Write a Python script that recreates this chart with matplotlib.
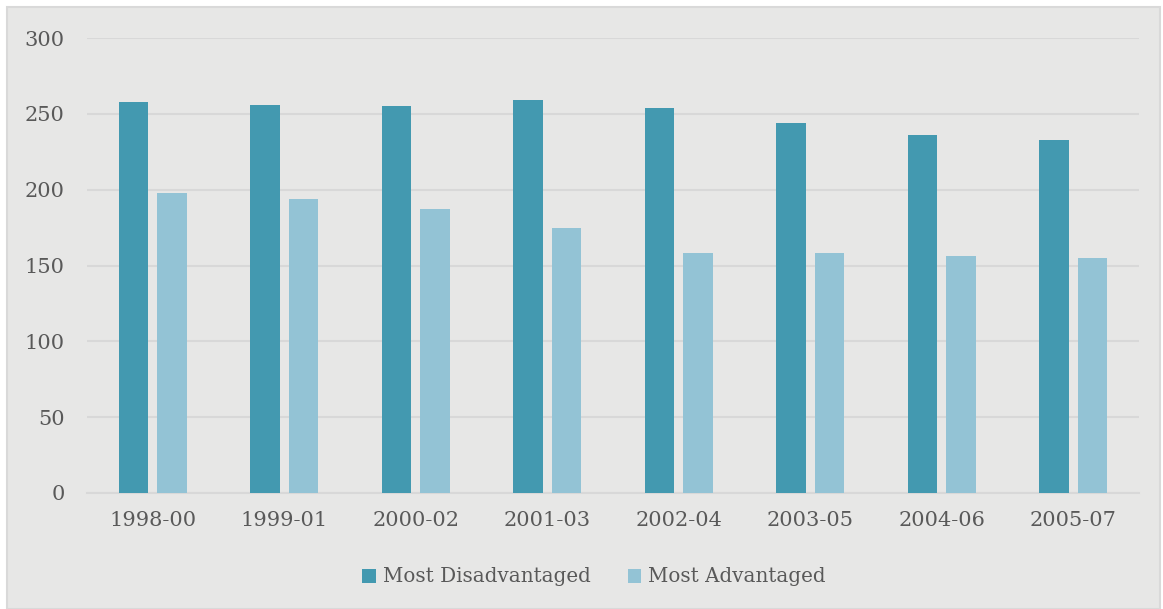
import numpy as np
import matplotlib.pyplot as plt
from matplotlib.patches import Rectangle

# data
periods = ['1998-00', '1999-01', '2000-02', '2001-03', '2002-04', '2003-05', '2004-06', '2005-07']
disadvantaged = [258, 256, 255, 259, 254, 244, 236, 233]
advantaged = [198, 194, 187, 175, 158, 158, 156, 155]

W, H = 1163, 609
fig = plt.figure(figsize=(W / 100, H / 100), dpi=100)
fig.patch.set_facecolor('white')
bg = Rectangle((7 / W, 0), (1160 - 7) / W, (H - 7) / H,
               transform=fig.transFigure, facecolor='#e7e7e6',
               edgecolor='#d9d9d9', linewidth=1.5, zorder=-10)
fig.add_artist(bg)

ax = fig.add_axes([87 / W, 1 - 493 / H, (1139 - 87) / W, (493 - 38) / H])
ax.set_facecolor('none')
ax.set_zorder(1)

txt = '#595959'
font = 'DejaVu Serif'
x = np.arange(len(periods))
bw = 0.225
ax.bar(x - 0.145, disadvantaged, bw, color='#4399b0', label='Most Disadvantaged', zorder=3)
ax.bar(x + 0.145, advantaged, bw, color='#93c3d5', label='Most Advantaged', zorder=3)

ax.set_xlim(-0.5, len(periods) - 0.5)
ax.set_ylim(0, 300)
ax.set_yticks(range(0, 301, 50))
ax.yaxis.grid(True, color='#d8d8d8', linewidth=1.5, zorder=0)
ax.set_axisbelow(True)
ax.set_xticks(x)
ax.set_xticklabels(periods)
for s in ['top', 'right', 'left']:
    ax.spines[s].set_visible(False)
ax.spines['bottom'].set_color('#d8d8d8')
ax.spines['bottom'].set_linewidth(1.5)
ax.tick_params(length=0, labelsize=15, colors=txt, pad=13)
ax.tick_params(axis='y', pad=16)
for lab in ax.get_xticklabels() + ax.get_yticklabels():
    lab.set_family(font)

leg = ax.legend(loc='center', bbox_to_anchor=(0.482, (493 - 577) / 455), ncol=2,
                frameon=False, handlelength=0.7, handleheight=0.7, handletextpad=0.35,
                columnspacing=1.85, prop={'family': font, 'size': 14.3})
for t in leg.get_texts():
    t.set_color(txt)

fig.savefig('out.png', dpi=100)
